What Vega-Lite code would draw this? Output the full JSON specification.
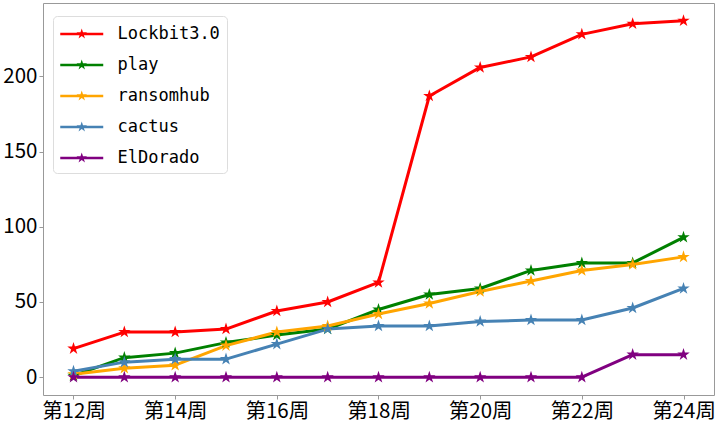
{
  "$schema": "https://vega.github.io/schema/vega-lite/v6.json",
  "width": 671,
  "height": 392,
  "autosize": "none",
  "padding": {"left": 43, "top": 3, "right": 6, "bottom": 37},
  "background": "white",
  "config": {
    "view": {"stroke": "#999999", "strokeWidth": 1},
    "axis": {
      "labelFont": "Noto Sans CJK SC",
      "labelFontSize": 20.5,
      "labelColor": "#000000",
      "domain": false,
      "grid": false,
      "ticks": true,
      "tickColor": "#999999",
      "tickSize": 4,
      "labelPadding": 2,
      "title": null
    }
  },
  "data": {
    "values": [
      {"week": 12, "gang": "Lockbit3.0", "count": 19},
      {"week": 13, "gang": "Lockbit3.0", "count": 30},
      {"week": 14, "gang": "Lockbit3.0", "count": 30},
      {"week": 15, "gang": "Lockbit3.0", "count": 32},
      {"week": 16, "gang": "Lockbit3.0", "count": 44},
      {"week": 17, "gang": "Lockbit3.0", "count": 50},
      {"week": 18, "gang": "Lockbit3.0", "count": 63},
      {"week": 19, "gang": "Lockbit3.0", "count": 187},
      {"week": 20, "gang": "Lockbit3.0", "count": 206},
      {"week": 21, "gang": "Lockbit3.0", "count": 213},
      {"week": 22, "gang": "Lockbit3.0", "count": 228},
      {"week": 23, "gang": "Lockbit3.0", "count": 235},
      {"week": 24, "gang": "Lockbit3.0", "count": 237},
      {"week": 12, "gang": "play", "count": 1},
      {"week": 13, "gang": "play", "count": 13},
      {"week": 14, "gang": "play", "count": 16},
      {"week": 15, "gang": "play", "count": 23},
      {"week": 16, "gang": "play", "count": 28},
      {"week": 17, "gang": "play", "count": 32},
      {"week": 18, "gang": "play", "count": 45},
      {"week": 19, "gang": "play", "count": 55},
      {"week": 20, "gang": "play", "count": 59},
      {"week": 21, "gang": "play", "count": 71},
      {"week": 22, "gang": "play", "count": 76},
      {"week": 23, "gang": "play", "count": 76},
      {"week": 24, "gang": "play", "count": 93},
      {"week": 12, "gang": "ransomhub", "count": 2},
      {"week": 13, "gang": "ransomhub", "count": 6},
      {"week": 14, "gang": "ransomhub", "count": 8},
      {"week": 15, "gang": "ransomhub", "count": 21},
      {"week": 16, "gang": "ransomhub", "count": 30},
      {"week": 17, "gang": "ransomhub", "count": 34},
      {"week": 18, "gang": "ransomhub", "count": 42},
      {"week": 19, "gang": "ransomhub", "count": 49},
      {"week": 20, "gang": "ransomhub", "count": 57},
      {"week": 21, "gang": "ransomhub", "count": 64},
      {"week": 22, "gang": "ransomhub", "count": 71},
      {"week": 23, "gang": "ransomhub", "count": 75},
      {"week": 24, "gang": "ransomhub", "count": 80},
      {"week": 12, "gang": "cactus", "count": 4},
      {"week": 13, "gang": "cactus", "count": 10},
      {"week": 14, "gang": "cactus", "count": 12},
      {"week": 15, "gang": "cactus", "count": 12},
      {"week": 16, "gang": "cactus", "count": 22},
      {"week": 17, "gang": "cactus", "count": 32},
      {"week": 18, "gang": "cactus", "count": 34},
      {"week": 19, "gang": "cactus", "count": 34},
      {"week": 20, "gang": "cactus", "count": 37},
      {"week": 21, "gang": "cactus", "count": 38},
      {"week": 22, "gang": "cactus", "count": 38},
      {"week": 23, "gang": "cactus", "count": 46},
      {"week": 24, "gang": "cactus", "count": 59},
      {"week": 12, "gang": "ElDorado", "count": 0},
      {"week": 13, "gang": "ElDorado", "count": 0},
      {"week": 14, "gang": "ElDorado", "count": 0},
      {"week": 15, "gang": "ElDorado", "count": 0},
      {"week": 16, "gang": "ElDorado", "count": 0},
      {"week": 17, "gang": "ElDorado", "count": 0},
      {"week": 18, "gang": "ElDorado", "count": 0},
      {"week": 19, "gang": "ElDorado", "count": 0},
      {"week": 20, "gang": "ElDorado", "count": 0},
      {"week": 21, "gang": "ElDorado", "count": 0},
      {"week": 22, "gang": "ElDorado", "count": 0},
      {"week": 23, "gang": "ElDorado", "count": 15},
      {"week": 24, "gang": "ElDorado", "count": 15}
    ]
  },
  "encoding": {
    "x": {
      "field": "week",
      "type": "quantitative",
      "scale": {"domain": [11.4, 24.6], "nice": false, "zero": false},
      "axis": {
        "values": [12, 14, 16, 18, 20, 22, 24],
        "labelExpr": "'第' + datum.value + '周'"
      }
    },
    "y": {
      "field": "count",
      "type": "quantitative",
      "scale": {"domain": [-11.85, 248.85], "nice": false, "zero": false},
      "axis": {"values": [0, 50, 100, 150, 200]}
    },
    "color": {
      "field": "gang",
      "type": "nominal",
      "scale": {
        "domain": ["Lockbit3.0", "play", "ransomhub", "cactus", "ElDorado"],
        "range": ["#ff0000", "#008000", "#ffa500", "#4682b4", "#800080"]
      },
      "legend": {
        "title": null,
        "orient": "none",
        "legendX": 10,
        "legendY": 13,
        "padding": 7,
        "strokeColor": "#dddddd",
        "fillColor": "#ffffff",
        "cornerRadius": 4,
        "symbolType": "M-1,-0.12H3V0.12H-1ZM1,-0.51L1.115,-0.158L1.485,-0.158L1.185,0.06L1.3,0.413L1,0.195L0.7,0.413L0.815,0.06L0.515,-0.158L0.885,-0.158Z",
        "symbolSize": 462,
        "symbolStrokeWidth": 0,
        "symbolOpacity": 1,
        "labelFont": "DejaVu Sans Mono",
        "labelFontSize": 17,
        "labelColor": "#000000",
        "labelOffset": 35.5,
        "rowPadding": 12
      }
    }
  },
  "layer": [
    {
      "mark": {"type": "line", "strokeWidth": 3, "strokeJoin": "round"}
    },
    {
      "mark": {
        "type": "point",
        "filled": true,
        "opacity": 1,
        "size": 170,
        "shape": "M0,-1L0.2245,-0.309L0.951,-0.309L0.363,0.118L0.588,0.809L0,0.382L-0.588,0.809L-0.363,0.118L-0.951,-0.309L-0.2245,-0.309Z"
      }
    }
  ]
}
